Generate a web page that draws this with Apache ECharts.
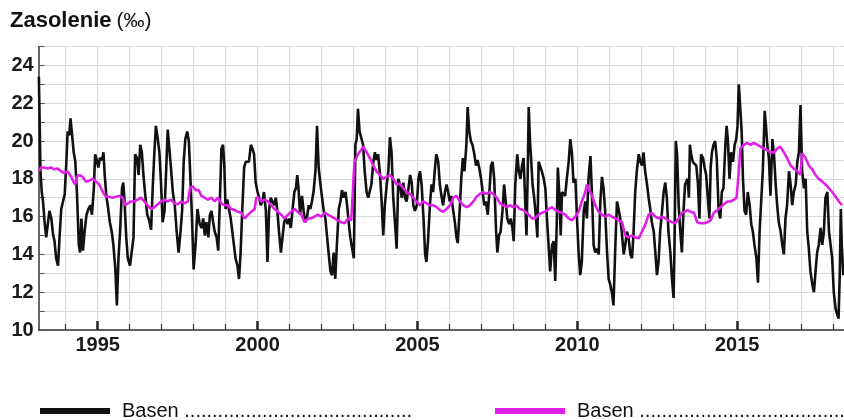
<!DOCTYPE html>
<html>
<head>
<meta charset="utf-8">
<script src="https://cdn.jsdelivr.net/npm/echarts@6/dist/echarts.min.js"></script>
<style>
html,body{margin:0;padding:0;background:#fff;}
#chart{width:844px;height:420px;}
</style>
</head>
<body>
<div id="chart"></div>
<script>
// ---- data (decimal year, salinity ‰) ----
const basinSeries = [
[1993.16,23.4],[1993.18,21.5],[1993.21,18.4],[1993.25,17.3],[1993.29,16.8],[1993.34,15.7],[1993.39,14.9],[1993.44,15.6],[1993.49,16.3],[1993.55,15.9],[1993.60,15.1],[1993.65,14.7],[1993.70,13.8],[1993.76,13.4],[1993.81,15.0],[1993.86,16.4],[1993.91,16.5],[1993.97,17.2],
[1994.02,18.9],[1994.06,20.5],[1994.11,20.3],[1994.15,21.2],[1994.20,20.3],[1994.25,19.4],[1994.30,18.9],[1994.35,17.3],[1994.41,14.5],[1994.45,14.1],[1994.49,15.9],[1994.54,14.2],[1994.59,15.2],[1994.65,16.1],[1994.71,16.4],[1994.77,16.6],[1994.82,16.1],[1994.88,17.5],[1994.92,19.3],[1994.97,19.0],
[1995.02,18.6],[1995.07,19.1],[1995.14,19.0],[1995.18,19.4],[1995.22,18.2],[1995.27,17.1],[1995.33,16.4],[1995.38,15.7],[1995.44,15.2],[1995.49,14.5],[1995.55,13.3],[1995.60,11.3],[1995.65,13.8],[1995.70,15.2],[1995.76,17.5],[1995.80,17.8],[1995.84,16.8],[1995.89,15.0],[1995.94,13.8],
[1996.01,13.4],[1996.07,13.5],[1996.12,14.9],[1996.17,19.3],[1996.23,19.1],[1996.28,18.2],[1996.33,19.8],[1996.38,19.4],[1996.44,18.0],[1996.49,17.1],[1996.55,16.1],[1996.61,15.8],[1996.67,15.3],[1996.72,17.5],[1996.77,19.3],[1996.82,20.8],[1996.88,20.1],[1996.93,19.4],[1996.98,17.8],
[1997.03,15.7],[1997.09,16.3],[1997.14,18.4],[1997.19,20.6],[1997.24,20.7],[1997.29,18.6],[1997.35,17.3],[1997.41,16.6],[1997.47,15.2],[1997.53,14.1],[1997.59,15.2],[1997.64,16.3],[1997.69,18.9],[1997.74,20.1],[1997.80,20.5],[1997.85,20.0],[1997.90,18.0],[1997.95,15.9],
[1998.00,13.2],[1998.06,14.5],[1998.12,16.4],[1998.19,15.6],[1998.25,15.4],[1998.30,15.9],[1998.35,15.0],[1998.40,15.7],[1998.46,14.9],[1998.51,16.1],[1998.56,16.3],[1998.61,15.7],[1998.66,15.2],[1998.72,14.9],[1998.77,14.2],[1998.82,16.8],[1998.87,19.6],[1998.92,19.8],[1998.96,18.7],
[1999.00,16.4],[1999.05,16.9],[1999.11,16.8],[1999.16,15.9],[1999.21,15.2],[1999.26,14.5],[1999.31,13.8],[1999.37,13.4],[1999.42,12.7],[1999.47,14.1],[1999.52,16.3],[1999.58,18.6],[1999.63,18.9],[1999.68,18.8],[1999.73,18.9],[1999.79,19.8],[1999.84,19.6],[1999.89,19.3],[1999.94,17.8],
[2000.00,17.3],[2000.05,17.0],[2000.10,16.6],[2000.15,16.8],[2000.20,17.3],[2000.26,16.3],[2000.31,13.6],[2000.36,16.3],[2000.41,17.0],[2000.47,16.9],[2000.52,16.6],[2000.57,17.0],[2000.62,16.3],[2000.67,15.2],[2000.73,14.1],[2000.78,14.9],[2000.83,15.7],[2000.88,15.9],[2000.94,15.6],[2000.99,15.9],
[2001.04,15.4],[2001.09,16.3],[2001.15,17.3],[2001.20,17.5],[2001.24,18.2],[2001.28,17.5],[2001.33,16.1],[2001.39,17.1],[2001.44,16.3],[2001.49,15.7],[2001.54,15.9],[2001.60,16.6],[2001.65,16.4],[2001.70,16.8],[2001.75,17.3],[2001.81,18.4],[2001.86,20.8],[2001.91,18.6],[2001.96,17.8],
[2002.01,17.1],[2002.07,16.3],[2002.12,15.9],[2002.17,15.0],[2002.22,14.1],[2002.28,13.1],[2002.33,12.9],[2002.38,14.1],[2002.43,12.7],[2002.48,14.5],[2002.54,16.4],[2002.59,16.8],[2002.64,17.4],[2002.69,17.0],[2002.75,17.3],[2002.80,16.6],[2002.85,15.7],[2002.90,14.9],[2002.96,14.3],
[2003.01,13.8],[2003.06,19.8],[2003.10,20.1],[2003.14,21.7],[2003.19,20.5],[2003.25,20.4],[2003.30,19.8],[2003.35,18.4],[2003.41,17.3],[2003.46,17.0],[2003.51,17.0],[2003.56,17.7],[2003.62,18.9],[2003.67,19.4],[2003.72,19.0],[2003.77,19.3],[2003.83,18.2],[2003.88,16.8],[2003.93,15.0],[2003.98,16.6],
[2004.04,17.7],[2004.09,18.4],[2004.14,20.2],[2004.19,19.4],[2004.24,17.1],[2004.30,15.6],[2004.35,14.3],[2004.40,18.0],[2004.45,17.7],[2004.51,17.0],[2004.56,17.8],[2004.61,17.0],[2004.66,16.8],[2004.72,17.5],[2004.77,18.2],[2004.82,17.8],[2004.87,16.6],[2004.92,16.3],[2004.98,16.6],
[2005.03,18.0],[2005.08,18.4],[2005.13,17.7],[2005.19,15.9],[2005.24,14.0],[2005.28,13.6],[2005.33,14.7],[2005.39,16.6],[2005.44,17.7],[2005.49,17.3],[2005.54,18.4],[2005.59,19.3],[2005.65,18.9],[2005.70,17.7],[2005.75,17.1],[2005.80,16.6],[2005.86,17.3],[2005.91,17.7],[2005.96,17.3],
[2006.01,16.8],[2006.06,17.1],[2006.12,16.3],[2006.17,15.7],[2006.22,14.9],[2006.26,14.6],[2006.32,16.3],[2006.37,18.0],[2006.42,19.1],[2006.47,18.4],[2006.53,19.8],[2006.57,21.8],[2006.62,20.5],[2006.67,20.0],[2006.72,19.8],[2006.78,19.3],[2006.83,18.7],[2006.88,19.0],[2006.93,18.6],[2006.99,18.0],
[2007.04,17.3],[2007.09,16.6],[2007.14,16.8],[2007.20,16.1],[2007.25,17.3],[2007.30,18.7],[2007.35,18.9],[2007.40,18.0],[2007.46,15.2],[2007.50,14.1],[2007.55,15.0],[2007.60,15.2],[2007.66,16.3],[2007.71,17.7],[2007.76,16.8],[2007.81,15.9],[2007.87,15.6],[2007.92,15.9],[2007.97,15.4],
[2008.01,14.7],[2008.06,17.7],[2008.12,19.3],[2008.17,18.4],[2008.22,18.0],[2008.27,18.7],[2008.32,19.1],[2008.37,16.8],[2008.41,15.0],[2008.45,18.4],[2008.48,21.8],[2008.52,20.0],[2008.56,18.9],[2008.60,17.7],[2008.65,17.0],[2008.71,15.9],[2008.75,14.9],[2008.79,18.9],[2008.84,19.0],[2008.89,18.4],[2008.95,18.0],
[2009.00,17.5],[2009.05,15.9],[2009.10,14.5],[2009.15,13.1],[2009.21,14.5],[2009.26,14.7],[2009.31,12.6],[2009.36,15.9],[2009.39,18.6],[2009.44,17.1],[2009.48,15.0],[2009.52,17.3],[2009.57,17.3],[2009.62,17.1],[2009.67,18.0],[2009.73,18.9],[2009.78,20.1],[2009.83,19.4],[2009.88,17.8],[2009.94,18.0],[2009.99,15.9],
[2010.04,14.1],[2010.09,12.9],[2010.14,13.6],[2010.20,16.3],[2010.25,16.8],[2010.30,15.9],[2010.35,18.0],[2010.41,19.2],[2010.46,17.1],[2010.51,14.5],[2010.56,14.1],[2010.61,14.3],[2010.67,14.0],[2010.72,16.8],[2010.77,18.1],[2010.82,17.5],[2010.87,16.3],[2010.93,14.1],[2010.98,12.7],
[2011.03,12.4],[2011.08,12.0],[2011.13,11.3],[2011.19,14.5],[2011.24,16.8],[2011.29,16.4],[2011.34,15.9],[2011.39,15.2],[2011.45,14.0],[2011.50,14.5],[2011.55,15.2],[2011.60,14.9],[2011.66,14.0],[2011.71,13.8],[2011.76,15.2],[2011.81,17.3],[2011.86,18.4],[2011.92,19.3],[2011.97,18.9],
[2012.02,18.7],[2012.07,19.4],[2012.12,18.4],[2012.18,17.7],[2012.23,17.0],[2012.28,16.4],[2012.33,15.7],[2012.39,15.2],[2012.44,14.1],[2012.49,12.9],[2012.54,13.6],[2012.59,15.2],[2012.65,16.3],[2012.70,17.3],[2012.75,17.8],[2012.80,17.0],[2012.85,15.2],[2012.91,14.1],[2012.96,12.7],
[2013.01,11.7],[2013.04,14.5],[2013.08,20.0],[2013.12,19.3],[2013.17,16.6],[2013.22,15.2],[2013.27,14.1],[2013.32,16.3],[2013.37,17.7],[2013.41,17.8],[2013.45,18.0],[2013.49,17.0],[2013.52,19.8],[2013.56,19.3],[2013.61,18.9],[2013.67,18.9],[2013.72,18.7],[2013.77,17.8],[2013.82,15.9],[2013.87,19.3],[2013.93,19.1],[2013.98,18.6],
[2014.03,18.2],[2014.08,17.0],[2014.13,15.9],[2014.17,18.6],[2014.21,19.4],[2014.26,19.8],[2014.31,20.0],[2014.36,19.1],[2014.42,16.3],[2014.47,15.9],[2014.52,17.3],[2014.57,17.5],[2014.63,19.8],[2014.67,20.8],[2014.71,20.0],[2014.76,18.0],[2014.81,19.4],[2014.87,18.9],[2014.92,19.8],[2014.97,20.1],
[2015.01,20.8],[2015.05,23.0],[2015.09,23.0],[2015.14,20.5],[2015.18,18.0],[2015.23,16.3],[2015.28,16.1],[2015.33,17.3],[2015.39,16.6],[2015.44,15.6],[2015.49,15.2],[2015.54,14.5],[2015.60,13.8],[2015.65,12.5],[2015.70,15.2],[2015.75,16.8],[2015.80,18.4],[2015.86,21.6],[2015.90,20.8],[2015.94,19.8],[2015.99,19.1],
[2016.04,17.1],[2016.10,20.1],[2016.15,19.3],[2016.20,17.8],[2016.25,16.6],[2016.30,15.7],[2016.36,15.2],[2016.41,14.5],[2016.46,14.0],[2016.51,15.9],[2016.56,16.6],[2016.62,18.4],[2016.67,17.7],[2016.72,16.6],[2016.77,17.3],[2016.83,17.7],[2016.88,18.9],[2016.93,19.4],[2016.98,21.9],
[2017.03,18.4],[2017.09,17.5],[2017.14,18.0],[2017.19,15.2],[2017.24,14.3],[2017.29,13.1],[2017.35,12.4],[2017.40,12.0],[2017.45,13.1],[2017.50,14.1],[2017.55,14.5],[2017.61,15.4],[2017.66,14.5],[2017.71,15.2],[2017.76,17.0],[2017.82,17.3],[2017.87,15.2],[2017.92,14.5],[2017.97,13.8],
[2018.02,12.0],[2018.08,11.1],[2018.13,10.8],[2018.17,10.6],[2018.21,13.1],[2018.24,16.4],[2018.27,14.5],[2018.32,12.9]
];
const meanSeries = [
[1993.16,18.4],[1993.23,18.6],[1993.33,18.6],[1993.44,18.55],[1993.54,18.6],[1993.64,18.5],[1993.75,18.55],[1993.85,18.4],[1993.96,18.3],[1994.06,18.4],[1994.17,18.1],[1994.24,17.85],[1994.30,17.7],[1994.34,18.1],[1994.43,18.2],[1994.53,18.1],[1994.63,17.85],[1994.74,17.9],[1994.84,18.0],[1994.95,17.85],
[1995.05,17.7],[1995.16,17.3],[1995.26,17.05],[1995.36,17.05],[1995.47,17.0],[1995.57,17.05],[1995.68,17.1],[1995.78,17.0],[1995.86,16.6],[1995.94,16.7],[1996.04,16.8],[1996.15,16.8],[1996.25,16.9],[1996.35,17.0],[1996.46,16.8],[1996.56,16.6],[1996.67,16.4],[1996.77,16.5],[1996.88,16.65],[1996.98,16.8],
[1997.08,16.9],[1997.19,16.8],[1997.29,16.9],[1997.40,16.7],[1997.50,16.65],[1997.61,16.8],[1997.71,16.7],[1997.82,16.8],[1997.89,17.5],[1997.97,17.6],[1998.07,17.4],[1998.16,17.4],[1998.24,17.1],[1998.34,17.0],[1998.45,16.9],[1998.55,17.0],[1998.66,16.8],[1998.76,17.0],[1998.87,16.7],[1998.97,16.6],
[1999.07,16.6],[1999.18,16.4],[1999.28,16.35],[1999.39,16.25],[1999.49,16.2],[1999.60,15.9],[1999.70,16.1],[1999.80,16.25],[1999.91,16.4],[1999.96,17.0],[2000.03,17.0],[2000.12,16.8],[2000.22,16.9],[2000.33,16.8],[2000.43,16.6],[2000.53,16.4],[2000.64,16.25],[2000.74,16.1],[2000.85,15.9],[2000.95,16.1],
[2001.05,16.25],[2001.16,16.4],[2001.26,16.25],[2001.37,16.1],[2001.47,15.7],[2001.58,15.9],[2001.68,15.9],[2001.78,16.0],[2001.89,16.1],[2001.99,16.0],[2002.10,16.2],[2002.20,16.1],[2002.31,16.0],[2002.41,15.9],[2002.51,15.8],[2002.62,15.7],[2002.72,15.65],[2002.83,15.9],[2002.93,15.8],[2002.99,15.9],
[2003.03,18.9],[2003.09,19.1],[2003.14,19.3],[2003.20,19.3],[2003.31,19.7],[2003.41,19.4],[2003.51,19.1],[2003.62,18.7],[2003.72,18.4],[2003.83,18.2],[2003.93,18.0],[2004.04,18.1],[2004.14,18.2],[2004.24,18.0],[2004.35,17.7],[2004.45,17.75],[2004.56,17.5],[2004.66,17.3],[2004.77,17.2],[2004.87,17.0],[2004.97,16.8],
[2005.08,16.6],[2005.18,16.8],[2005.29,16.7],[2005.39,16.6],[2005.50,16.6],[2005.60,16.5],[2005.70,16.35],[2005.81,16.25],[2005.91,16.4],[2006.02,16.6],[2006.12,17.0],[2006.22,17.1],[2006.33,16.8],[2006.43,16.6],[2006.54,16.5],[2006.64,16.6],[2006.75,16.8],[2006.85,17.05],[2006.95,17.2],
[2007.06,17.3],[2007.16,17.2],[2007.27,17.3],[2007.37,17.2],[2007.48,17.0],[2007.58,16.7],[2007.68,16.6],[2007.79,16.5],[2007.89,16.6],[2008.00,16.5],[2008.10,16.6],[2008.20,16.4],[2008.31,16.35],[2008.37,16.4],[2008.48,16.1],[2008.58,15.9],[2008.68,15.9],[2008.79,16.1],[2008.89,16.2],[2008.98,16.25],
[2009.10,16.4],[2009.21,16.5],[2009.31,16.35],[2009.41,16.25],[2009.52,16.2],[2009.62,16.1],[2009.73,15.9],[2009.83,15.8],[2009.94,16.0],[2010.04,16.25],[2010.14,16.8],[2010.25,17.3],[2010.30,17.7],[2010.35,17.5],[2010.46,17.1],[2010.56,16.6],[2010.67,16.25],[2010.77,16.1],[2010.87,16.0],[2010.98,16.1],
[2011.08,16.0],[2011.19,15.9],[2011.29,15.8],[2011.40,15.7],[2011.50,15.0],[2011.60,14.9],[2011.71,15.0],[2011.81,14.9],[2011.92,14.85],[2012.02,15.2],[2012.12,15.55],[2012.23,16.1],[2012.33,16.2],[2012.44,16.0],[2012.54,15.9],[2012.65,16.0],[2012.75,15.9],[2012.85,15.8],[2012.96,15.7],
[2013.06,15.65],[2013.17,15.9],[2013.27,16.2],[2013.37,16.25],[2013.44,16.35],[2013.54,16.25],[2013.65,16.2],[2013.75,15.7],[2013.85,15.65],[2013.96,15.65],[2014.06,15.7],[2014.17,15.8],[2014.27,16.2],[2014.38,16.35],[2014.48,16.5],[2014.58,16.65],[2014.69,16.8],[2014.79,16.8],[2014.90,16.9],[2014.98,17.0],
[2015.05,18.4],[2015.10,19.6],[2015.21,19.8],[2015.31,19.9],[2015.42,19.8],[2015.52,19.9],[2015.63,19.8],[2015.73,19.7],[2015.83,19.6],[2015.94,19.5],[2016.04,19.4],[2016.15,19.4],[2016.25,19.6],[2016.35,19.7],[2016.46,19.4],[2016.56,19.1],[2016.67,18.7],[2016.77,18.55],[2016.88,18.4],[2016.98,18.2],
[2017.03,19.35],[2017.14,19.1],[2017.24,18.7],[2017.35,18.5],[2017.45,18.2],[2017.55,18.0],[2017.66,17.85],[2017.76,17.7],[2017.87,17.5],[2017.97,17.3],[2018.08,17.05],[2018.18,16.8],[2018.28,16.6]
];
const yearTicks = [1994,1995,1996,1997,1998,1999,2000,2001,2002,2003,2004,2005,2006,2007,2008,2009,2010,2011,2012,2013,2014,2015,2016,2017,2018];
const yearLabels = [1995,2000,2005,2010,2015];
const titleMain = 'Zasolenie';
const titleUnit = '(‰)';
const legendNames = ['Basen', 'Basen'];
const leaders = ['.........................................', '.............................................'];

// ---- chart ----
const FONT = 'Liberation Sans, Arial, sans-serif';
const chart = echarts.init(document.getElementById('chart'), null, {renderer: 'canvas'});
const xMin = 1993.155, xMax = 2018.34;
const option = {
  animation: false,
  backgroundColor: '#ffffff',
  title: {
    text: '{a|' + titleMain + '} {b|' + titleUnit + '}',
    left: 5, top: 5,
    textStyle: {
      rich: {
        a: {fontFamily: FONT, fontWeight: 'bold', fontSize: 22, color: '#111'},
        b: {fontFamily: FONT, fontWeight: 'normal', fontSize: 21, color: '#111'}
      }
    }
  },
  legend: [
    {
      data: ['s1'], left: 35, top: 396, icon: 'rect', itemWidth: 70, itemHeight: 6,
      formatter: () => legendNames[0] + ' ' + leaders[0],
      textStyle: {fontFamily: FONT, fontSize: 20, color: '#111', padding: [0,0,0,7]},
      selectedMode: false
    },
    {
      data: ['s2'], left: 490, top: 396, icon: 'rect', itemWidth: 70, itemHeight: 6,
      formatter: () => legendNames[1] + ' ' + leaders[1],
      textStyle: {fontFamily: FONT, fontSize: 20, color: '#111', padding: [0,0,0,7]},
      selectedMode: false
    }
  ],
  grid: {left: 38.7, right: 0, top: 46.5, bottom: 90, containLabel: false},
  xAxis: [
    {
      type: 'value', min: xMin, max: xMax, position: 'bottom',
      axisLine: {show: true, onZero: false, lineStyle: {color: '#333', width: 1.5}},
      axisTick: {show: true, inside: true, length: 6, customValues: yearTicks, lineStyle: {color: '#333', width: 1.2}},
      axisLabel: {show: true, customValues: yearLabels, margin: 5, fontFamily: FONT, fontWeight: 'bold', fontSize: 20, color: '#1a1a1a', formatter: v => String(Math.round(v))},
      splitLine: {show: true, lineStyle: {color: '#d9d9d9', width: 1}}
    },
    {
      type: 'value', min: xMin, max: xMax, position: 'bottom', gridIndex: 0,
      axisLine: {show: false},
      axisTick: {show: true, inside: true, length: 9, customValues: yearLabels, lineStyle: {color: '#222', width: 2.5}},
      axisLabel: {show: false},
      splitLine: {show: false}
    }
  ],
  yAxis: {
    type: 'value', min: 10, max: 25, interval: 1,
    axisLine: {show: true, lineStyle: {color: '#333', width: 1.5}},
    axisTick: {show: true, inside: true, length: 6, lineStyle: {color: '#555', width: 1}},
    axisLabel: {margin: 5, fontFamily: FONT, fontWeight: 'bold', fontSize: 20, color: '#1a1a1a',
      formatter: v => (v % 2 === 0 && v < 25) ? String(v) : ''},
    splitLine: {show: true, lineStyle: {color: '#d9d9d9', width: 1}}
  },
  series: [
    {
      name: 's1', type: 'line', xAxisIndex: 0, data: basinSeries, showSymbol: false, symbol: 'none',
      lineStyle: {color: '#111', width: 2.6}, itemStyle: {color: '#111'}, z: 3
    },
    {
      name: 's2', type: 'line', xAxisIndex: 0, data: meanSeries, showSymbol: false, symbol: 'none',
      lineStyle: {color: '#e020e6', width: 2.6}, itemStyle: {color: '#e020e6'}, z: 4
    }
  ]
};
chart.setOption(option);
</script>
</body>
</html>
